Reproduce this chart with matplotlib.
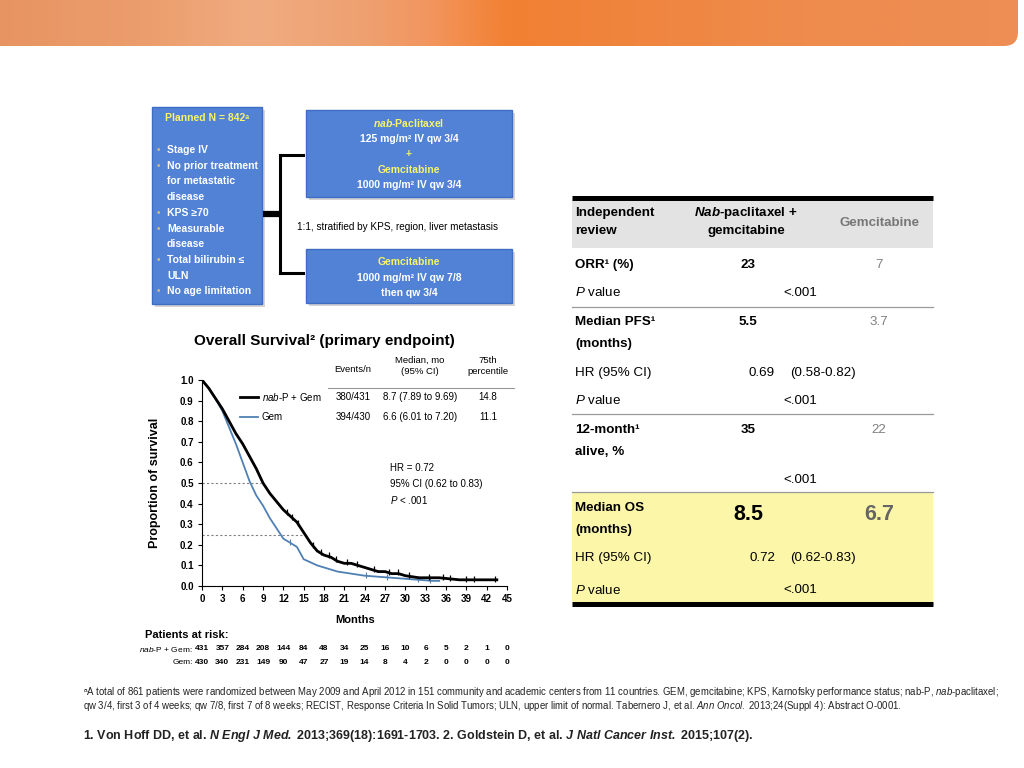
import numpy as np
import matplotlib.pyplot as plt
from matplotlib.patches import Rectangle, FancyBboxPatch
from matplotlib.transforms import blended_transform_factory

FONT = 'Liberation Sans'
plt.rcParams['font.family'] = [FONT, 'DejaVu Sans']
plt.rcParams['mathtext.fontset'] = 'custom'
plt.rcParams['mathtext.rm'] = FONT
plt.rcParams['mathtext.it'] = FONT + ':italic'
plt.rcParams['mathtext.bf'] = FONT + ':bold'
plt.rcParams['mathtext.bfit'] = FONT + ':italic:bold'

# Kaplan-Meier overall survival (months, proportion)
months_nab = [0, 1, 2, 3, 4, 5, 6, 7, 8, 9, 10, 11, 12, 13, 14, 15, 16, 17, 18, 19, 20,
              21, 22, 23, 24, 25, 26, 27, 28, 29, 30, 31, 32, 33, 35, 38, 43.5]
surv_nab = [1.0, 0.96, 0.91, 0.86, 0.80, 0.74, 0.69, 0.63, 0.57, 0.50, 0.45, 0.41, 0.37,
            0.34, 0.31, 0.26, 0.21, 0.17, 0.15, 0.14, 0.12, 0.11, 0.11, 0.10, 0.09, 0.08,
            0.07, 0.07, 0.06, 0.06, 0.05, 0.045, 0.04, 0.04, 0.04, 0.03, 0.03]
months_gem = [0, 1, 2, 3, 4, 5, 6, 7, 8, 9, 10, 11, 12, 13, 14, 15, 16, 17, 18, 19, 20,
              21, 22, 23, 24, 26, 28, 30, 32, 34, 35]
surv_gem = [1.0, 0.96, 0.91, 0.85, 0.77, 0.69, 0.60, 0.51, 0.44, 0.39, 0.33, 0.28, 0.23,
            0.21, 0.19, 0.13, 0.115, 0.10, 0.09, 0.08, 0.07, 0.065, 0.06, 0.055, 0.05,
            0.045, 0.04, 0.035, 0.03, 0.025, 0.025]
censor_nab = [12.6, 13.3, 14.2, 16.4, 17.6, 18.7, 19.8, 21.4, 22.8, 25.4, 27.6, 28.9,
              30.6, 33.5, 35.5, 36.6, 39.0, 40.1, 43.3]
censor_gem = [13.0, 24.2, 27.3, 31.8, 33.6]
median_nab = 8.7
p75_nab = 14.8

# patients at risk
risk_months = [0, 3, 6, 9, 12, 15, 18, 21, 24, 27, 30, 33, 36, 39, 42, 45]
risk_nab = [431, 357, 284, 208, 144, 84, 48, 34, 25, 16, 10, 6, 5, 2, 1, 0]
risk_gem = [430, 340, 231, 149, 90, 47, 27, 19, 14, 8, 4, 2, 0, 0, 0, 0]

# summary inside the KM panel
km_events = ['380/431', '394/430']
km_median = ['8.7 (7.89 to 9.69)', '6.6 (6.01 to 7.20)']
km_p75 = ['14.8', '11.1']

# right-hand results table
tbl_labels = ['ORR¹ (%)', 'Median PFS¹\n(months)', '12-month¹\nalive, %', 'Median OS\n(months)']
tbl_nab = ['23', '5.5', '35', '8.5']
tbl_gem = ['7', '3.7', '22', '6.7']
tbl_hr = [('0.69', '(0.58-0.82)'), ('0.72', '(0.62-0.83)')]
tbl_p = ['<.001', '<.001', '<.001', '<.001']

BLUE = '#5282d6'
YEL = '#f6f46a'
GEMBLUE = '#4f80b4'

fig = plt.figure(figsize=(10.24, 7.68), dpi=100)
bg = fig.add_axes([0, 0, 1, 1])
bg.set_xlim(0, 1024)
bg.set_ylim(768, 0)
bg.axis('off')

# orange banner
stops = [0, 0.15, 0.25, 0.36, 0.42, 0.5, 0.6, 0.8, 1.0]
cols = np.array([[232, 148, 98], [236, 158, 110], [240, 172, 128], [238, 160, 112],
                 [242, 150, 95], [242, 128, 50], [240, 132, 60], [238, 140, 78],
                 [238, 142, 85]]) / 255
xs = np.linspace(0, 1, 512)
row = np.stack([np.interp(xs, stops, cols[:, k]) for k in range(3)], axis=-1)
band = np.repeat(row[None, :, :], 10, axis=0)
im = bg.imshow(band, extent=[0, 1018, 46, 0], aspect='auto', zorder=1)
clip = FancyBboxPatch((-30, -30), 1048, 76, boxstyle='round,pad=0,rounding_size=14',
                      fc='none', ec='none')
bg.add_patch(clip)
im.set_clip_path(clip)
bg.set_xlim(0, 1024)
bg.set_ylim(768, 0)

# ---- study design boxes ----
for (x, y, w, h) in [(152, 107, 110, 197), (306, 110, 206, 87), (306, 249, 206, 54)]:
    bg.add_patch(Rectangle((x + 3, y + 3), w, h, fc='#d4d4d4', ec='none', zorder=2))
    bg.add_patch(Rectangle((x, y), w, h, fc=BLUE, ec='#3f6cc4', lw=1, zorder=3))

BFS = 7.5
bg.text(207, 118, 'Planned N = 842ᵃ', color=YEL, fontsize=BFS, weight='bold',
        ha='center', va='center', zorder=4)
bullets = [('Stage IV', True), ('No prior treatment', True), ('for metastatic', False),
           ('disease', False), ('KPS ≥70', True), ('Measurable', True), ('disease', False),
           ('Total bilirubin ≤', True), ('ULN', False), ('No age limitation', True)]
for i, (s, dot) in enumerate(bullets):
    y = 150 + i * 15.7
    if dot:
        bg.text(158, y, '•', color='#d8b888', fontsize=7, ha='center', va='center', zorder=4)
    bg.text(167, y, s, color='white', fontsize=BFS, weight='bold', ha='left', va='center', zorder=4)

bg.text(409, 123, r'$\mathbfit{nab}$-Paclitaxel', color=YEL, fontsize=BFS, weight='bold',
        ha='center', va='center', zorder=4)
bg.text(409, 139, '125 mg/m² IV qw 3/4', color='white', fontsize=BFS, weight='bold',
        ha='center', va='center', zorder=4)
bg.text(409, 154, '+', color=YEL, fontsize=BFS, weight='bold', ha='center', va='center', zorder=4)
bg.text(409, 170, 'Gemcitabine', color=YEL, fontsize=BFS, weight='bold', ha='center', va='center', zorder=4)
bg.text(409, 185, '1000 mg/m² IV qw 3/4', color='white', fontsize=BFS, weight='bold',
        ha='center', va='center', zorder=4)
bg.text(409, 262, 'Gemcitabine', color=YEL, fontsize=BFS, weight='bold', ha='center', va='center', zorder=4)
bg.text(409, 278, '1000 mg/m² IV qw 7/8', color='white', fontsize=BFS, weight='bold',
        ha='center', va='center', zorder=4)
bg.text(409, 293, 'then qw 3/4', color='white', fontsize=BFS, weight='bold', ha='center', va='center', zorder=4)

bg.plot([263, 281], [214, 214], color='black', lw=4.5, solid_capstyle='butt', zorder=4)
bg.plot([280, 280], [155, 273], color='black', lw=2.2, zorder=4)
bg.plot([280, 303], [155, 155], color='black', lw=2.2, zorder=4)
bg.plot([280, 303], [273, 273], color='black', lw=2.2, zorder=4)
bg.text(297, 227, '1:1, stratified by KPS, region, liver metastasis', fontsize=7.2,
        ha='left', va='center', zorder=4)

# ---- Kaplan-Meier panel ----
bg.text(324, 341, 'Overall Survival² (primary endpoint)', fontsize=11, weight='bold',
        ha='center', va='center')

ax = fig.add_axes([202 / 1024, 1 - 586 / 768, 305 / 1024, 206 / 768])
ax.patch.set_alpha(0)
ax.plot([0, median_nab], [0.5, 0.5], color='#808080', lw=0.8, ls=(0, (2, 2)))
ax.plot([0, p75_nab], [0.25, 0.25], color='#808080', lw=0.8, ls=(0, (2, 2)))
ax.plot(months_gem, surv_gem, color=GEMBLUE, lw=1.3)
ax.plot(censor_gem, np.interp(censor_gem, months_gem, surv_gem) + 0.004, ls='none',
        marker='|', ms=4, mew=0.8, color=GEMBLUE)
ax.plot(months_nab, surv_nab, color='black', lw=2.0)
ax.plot(censor_nab, np.interp(censor_nab, months_nab, surv_nab) + 0.006, ls='none',
        marker='|', ms=5, mew=0.9, color='black')
ax.set_xlim(0, 45)
ax.set_ylim(0, 1.0)
ax.set_xticks(risk_months)
ax.set_yticks(np.arange(0, 1.01, 0.1))
ax.set_yticklabels([f'{v:.1f}' for v in np.arange(0, 1.01, 0.1)])
ax.tick_params(labelsize=7, length=3, width=0.8, pad=3)
for lab in ax.get_xticklabels() + ax.get_yticklabels():
    lab.set_fontweight('bold')
ax.spines['top'].set_visible(False)
ax.spines['right'].set_visible(False)
ax.spines['left'].set_linewidth(0.8)
ax.spines['bottom'].set_linewidth(0.8)

bg.text(155, 483, 'Proportion of survival', rotation=90, fontsize=9, weight='bold',
        ha='center', va='center')
bg.text(355, 620, 'Months', fontsize=8, weight='bold', ha='center', va='center')

# legend
bg.plot([240, 258], [397, 397], color='black', lw=2.0)
bg.plot([240, 258], [417, 417], color=GEMBLUE, lw=1.3)
bg.text(262, 397, r'$\mathit{nab}$-P + Gem', fontsize=7, ha='left', va='center')
bg.text(262, 417, 'Gem', fontsize=7, ha='left', va='center')

# summary table inside the KM panel
bg.text(353, 370, 'Events/n', fontsize=6.8, ha='center', va='center')
bg.text(420, 366, 'Median, mo\n(95% CI)', fontsize=6.8, ha='center', va='center', linespacing=1.2)
bg.text(488, 366, '75th\npercentile', fontsize=6.8, ha='center', va='center', linespacing=1.2)
bg.plot([328, 514], [388, 388], color='#999999', lw=0.8)
for i in range(2):
    y = 397 + 20 * i
    bg.text(353, y, km_events[i], fontsize=7, ha='center', va='center')
    bg.text(420, y, km_median[i], fontsize=7, ha='center', va='center')
    bg.text(488, y, km_p75[i], fontsize=7, ha='center', va='center')
bg.text(390, 468, 'HR = 0.72', fontsize=7, ha='left', va='center')
bg.text(390, 484, '95% CI (0.62 to 0.83)', fontsize=7, ha='left', va='center')
bg.text(390, 500, r'$\mathit{P}$ < .001', fontsize=7, ha='left', va='center')

# patients at risk
bg.text(145, 635, 'Patients at risk:', fontsize=8, weight='bold', ha='left', va='center')
bg.text(193, 649, r'$\mathit{nab}$-P + Gem:', fontsize=6, ha='right', va='center')
bg.text(193, 663, 'Gem:', fontsize=6, ha='right', va='center')
risk_tr = blended_transform_factory(ax.transData, bg.transData)
for m, a, b in zip(risk_months, risk_nab, risk_gem):
    ax.text(m, 649, str(a), transform=risk_tr, fontsize=6, weight='bold', ha='center',
            va='center', clip_on=False)
    ax.text(m, 663, str(b), transform=risk_tr, fontsize=6, weight='bold', ha='center',
            va='center', clip_on=False)

# ---- results table ----
TL, TR = 572, 933
C_NAB, C_GEM, C_P, C_HR, C_CI = 748, 879, 800, 762, 823
bg.add_patch(Rectangle((TL, 199), TR - TL, 49, fc='#e3e3e3', ec='none'))
bg.add_patch(Rectangle((TL, 492), TR - TL, 111, fc='#fbf6a8', ec='none'))
bg.plot([TL, TR], [198, 198], color='black', lw=3.6, solid_capstyle='butt')
bg.plot([TL, TR], [604, 604], color='black', lw=3.6, solid_capstyle='butt')
for y in [307, 414, 492]:
    bg.plot([TL, TR], [y, y], color='#9a9a9a', lw=0.9)

FS = 9.6
bg.text(575, 213, 'Independent', fontsize=FS, weight='bold', ha='left', va='center')
bg.text(575, 231, 'review', fontsize=FS, weight='bold', ha='left', va='center')
bg.text(746, 213, r'$\mathbfit{Nab}$-paclitaxel +', fontsize=FS, weight='bold', ha='center', va='center')
bg.text(746, 231, 'gemcitabine', fontsize=FS, weight='bold', ha='center', va='center')
bg.text(880, 223, 'Gemcitabine', fontsize=FS, weight='bold', color='#777777', ha='center', va='center')

row_y = [265, 322, 430, 508]
for i, lab in enumerate(tbl_labels):
    for j, part in enumerate(lab.split('\n')):
        bg.text(575, row_y[i] + 22 * j, part, fontsize=FS, weight='bold', ha='left', va='center')
    big = i == 3
    vy = 515 if big else row_y[i]
    bg.text(C_NAB, vy, tbl_nab[i], fontsize=15.5 if big else FS, weight='bold',
            ha='center', va='center')
    bg.text(C_GEM, vy, tbl_gem[i], fontsize=15.5 if big else FS,
            weight='bold' if big else 'normal', color='#666666' if big else '#808080',
            ha='center', va='center')

for y, (hr, ci) in zip([373, 558], tbl_hr):
    bg.text(575, y, 'HR (95% CI)', fontsize=FS, ha='left', va='center')
    bg.text(C_HR, y, hr, fontsize=FS, ha='center', va='center')
    bg.text(C_CI, y, ci, fontsize=FS, ha='center', va='center')

for y, p, lab in zip([293, 401, 480, 590], tbl_p, [True, True, False, True]):
    if lab:
        bg.text(575, y, r'$\mathit{P}$ value', fontsize=FS, ha='left', va='center')
    bg.text(C_P, y, p, fontsize=FS, ha='center', va='center')

# ---- footnotes ----
foot1 = ('ᵃA total of 861 patients were randomized between May 2009 and April 2012 in 151 community '
         'and academic centers from 11 countries. GEM, gemcitabine; KPS, Karnofsky performance '
         'status; nab-P, ')
bg.text(83, 692, foot1 + r'$\mathit{nab}$-paclitaxel;', fontsize=6.9, color='#222222',
        ha='left', va='center')
bg.text(83, 706, 'qw 3/4, first 3 of 4 weeks; qw 7/8, first 7 of 8 weeks; RECIST, Response Criteria '
        'In Solid Tumors; ULN, upper limit of normal. Tabernero J, et al. '
        r'$\mathit{Ann\ Oncol.}$ 2013;24(Suppl 4): Abstract O-0001.', fontsize=6.9, color='#222222',
        ha='left', va='center')
bg.text(83, 736, r'1. Von Hoff DD, et al. $\mathbfit{N\ Engl\ J\ Med.}$ 2013;369(18):1691-1703. '
        r'2. Goldstein D, et al. $\mathbfit{J\ Natl\ Cancer\ Inst.}$ 2015;107(2).',
        fontsize=9.0, weight='bold', color='#222222', ha='left', va='center')

fig.savefig('out.png', dpi=100)
